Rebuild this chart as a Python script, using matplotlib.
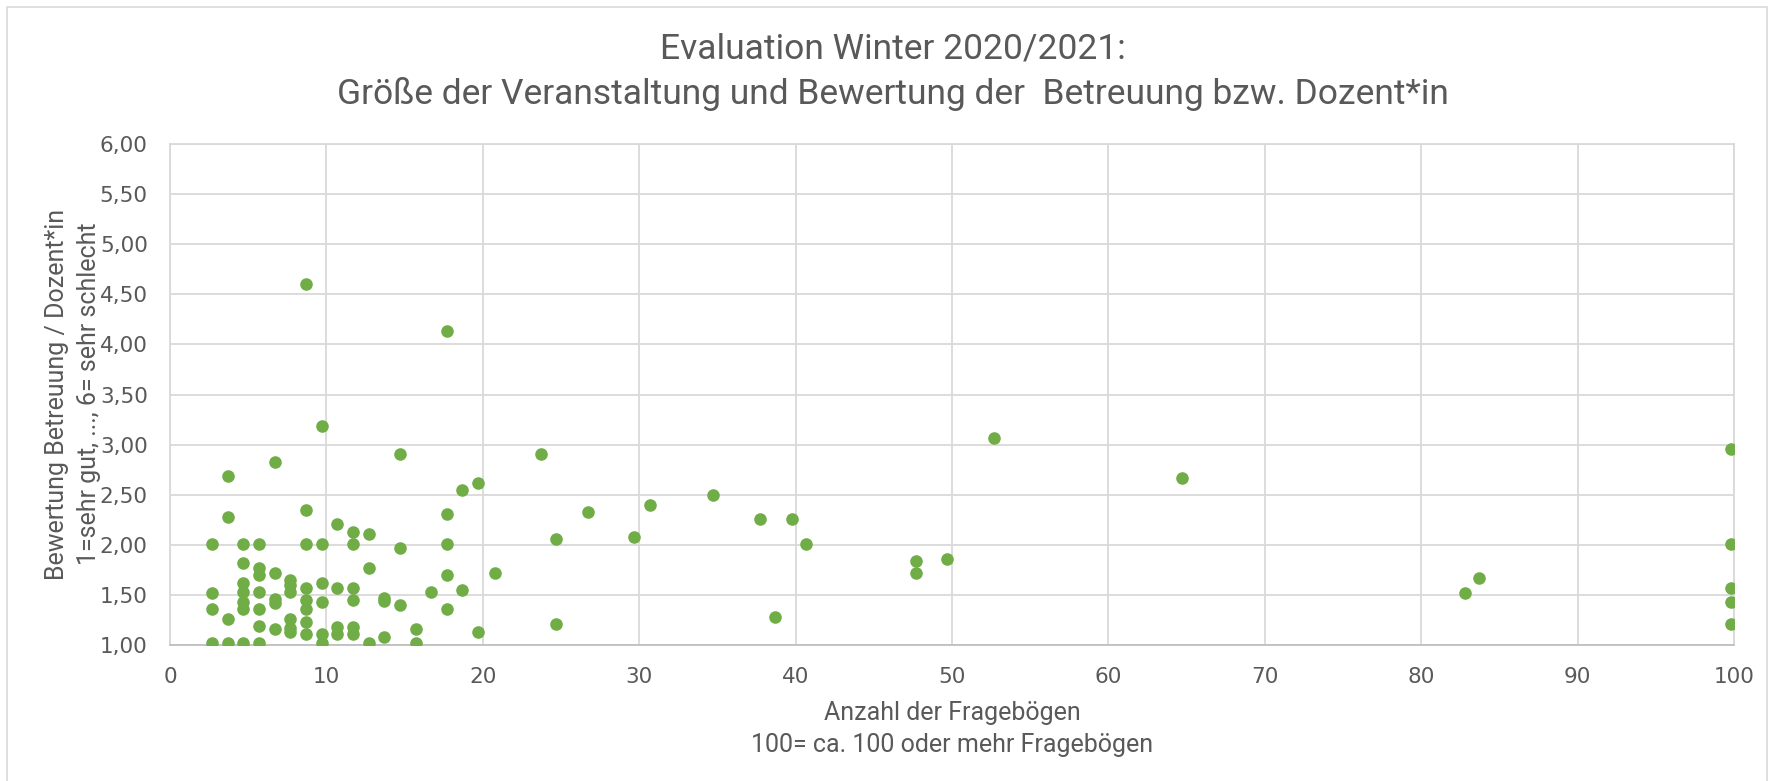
import matplotlib.pyplot as plt
from matplotlib.patches import Rectangle
from matplotlib.ticker import FuncFormatter, MultipleLocator

plt.rcParams['font.family'] = ['Roboto', 'DejaVu Sans']

TITLE = "Evaluation Winter 2020/2021:\nGröße der Veranstaltung und Bewertung der  Betreuung bzw. Dozent*in"
X_LABEL = "Anzahl der Fragebögen\n100= ca. 100 oder mehr Fragebögen"
Y_LABEL = "Bewertung Betreuung / Dozent*in\n1=sehr gut, ..., 6= sehr schlecht"

#data
anzahl = [
    2.7, 2.7, 2.7, 2.7,
    3.7, 3.7, 3.7, 3.7,
    4.7, 4.7, 4.7, 4.7, 4.7, 4.7, 4.7,
    5.7, 5.7, 5.7, 5.7, 5.7, 5.7, 5.7,
    6.7, 6.7, 6.7, 6.7, 6.7,
    7.7, 7.7, 7.7, 7.7, 7.7, 7.7,
    8.7, 8.7, 8.7, 8.7, 8.7, 8.7, 8.7, 8.7,
    9.7, 9.7, 9.7, 9.7, 9.7, 9.7,
    10.7, 10.7, 10.7, 10.7,
    11.7, 11.7, 11.7, 11.7, 11.7, 11.7,
    12.7, 12.7, 12.7,
    13.7, 13.7, 13.7,
    14.7, 14.7, 14.7,
    15.7, 15.7,
    16.7,
    17.7, 17.7, 17.7, 17.7, 17.7,
    18.7, 18.7,
    19.7, 19.7,
    20.8,
    23.7,
    24.7, 24.7,
    26.7,
    29.7,
    30.7,
    34.7,
    37.7,
    38.7,
    39.8,
    40.7,
    47.7, 47.7,
    49.7,
    52.7,
    64.7,
    82.8,
    83.7,
    99.8, 99.8, 99.8, 99.8, 99.8,
]
bewertung = [
    2.01, 1.52, 1.36, 1.02,
    2.69, 2.28, 1.26, 1.02,
    2.01, 1.82, 1.62, 1.53, 1.43, 1.36, 1.02,
    2.01, 1.77, 1.70, 1.53, 1.36, 1.19, 1.02,
    2.83, 1.72, 1.46, 1.42, 1.16,
    1.65, 1.60, 1.53, 1.26, 1.17, 1.13,
    4.60, 2.35, 2.01, 1.57, 1.45, 1.36, 1.23, 1.11,
    3.19, 2.01, 1.62, 1.43, 1.11, 1.02,
    2.21, 1.57, 1.18, 1.11,
    2.13, 2.01, 1.57, 1.45, 1.18, 1.11,
    2.11, 1.77, 1.02,
    1.47, 1.44, 1.08,
    2.91, 1.97, 1.40,
    1.16, 1.02,
    1.53,
    4.13, 2.31, 2.01, 1.70, 1.36,
    2.55, 1.55,
    2.62, 1.13,
    1.72,
    2.91,
    2.06, 1.21,
    2.33,
    2.08,
    2.40,
    2.50,
    2.26,
    1.28,
    2.26,
    2.01,
    1.84, 1.72,
    1.86,
    3.07,
    2.67,
    1.52,
    1.67,
    2.96, 2.01, 1.57, 1.43, 1.21,
]

GREEN = "#70AD47"
TEXT = "#595959"
GRID = "#D9D9D9"

#figure
fig = plt.figure(figsize=(17.76, 7.81), dpi=100)
fig.patches.append(Rectangle((0.004, -0.01), 0.991, 1.001, transform=fig.transFigure,
                             fill=False, edgecolor=GRID, linewidth=1.2))
ax = fig.add_axes([0.0957, 0.1741, 0.8806, 0.6415])

ax.scatter(anzahl, bewertung, s=82, color=GREEN, zorder=3, linewidths=0)

#axes
ax.set_xlim(0, 100)
ax.set_ylim(1, 6)
ax.xaxis.set_major_locator(MultipleLocator(10))
ax.yaxis.set_major_locator(MultipleLocator(0.5))
ax.yaxis.set_major_formatter(FuncFormatter(lambda v, p: f"{v:.2f}".replace(".", ",")))
ax.grid(True, color=GRID, linewidth=1.3, zorder=0)
ax.set_axisbelow(True)
for side in ["top", "right", "left"]:
    ax.spines[side].set_color(GRID)
    ax.spines[side].set_linewidth(1.3)
ax.spines["bottom"].set_color("#BFBFBF")
ax.spines["bottom"].set_linewidth(1.3)
ax.tick_params(axis="both", length=0, labelsize=15.5, labelcolor=TEXT,
               labelfontfamily="DejaVu Sans")
ax.tick_params(axis="x", pad=16)
ax.tick_params(axis="y", pad=16)

#labels and title
fig.text(952 / 1776, 1 - 729 / 781, X_LABEL, ha="center", va="center",
         fontsize=18, color=TEXT, linespacing=1.45)
fig.text(73 / 1776, 1 - 394 / 781, Y_LABEL, ha="center", va="center", rotation=90,
         fontsize=18, color=TEXT, linespacing=1.45)
fig.text(0.5025, 0.958, TITLE, ha="center", va="top", fontsize=25.5, color=TEXT, linespacing=1.4)

plt.savefig("out.png", dpi=100)
